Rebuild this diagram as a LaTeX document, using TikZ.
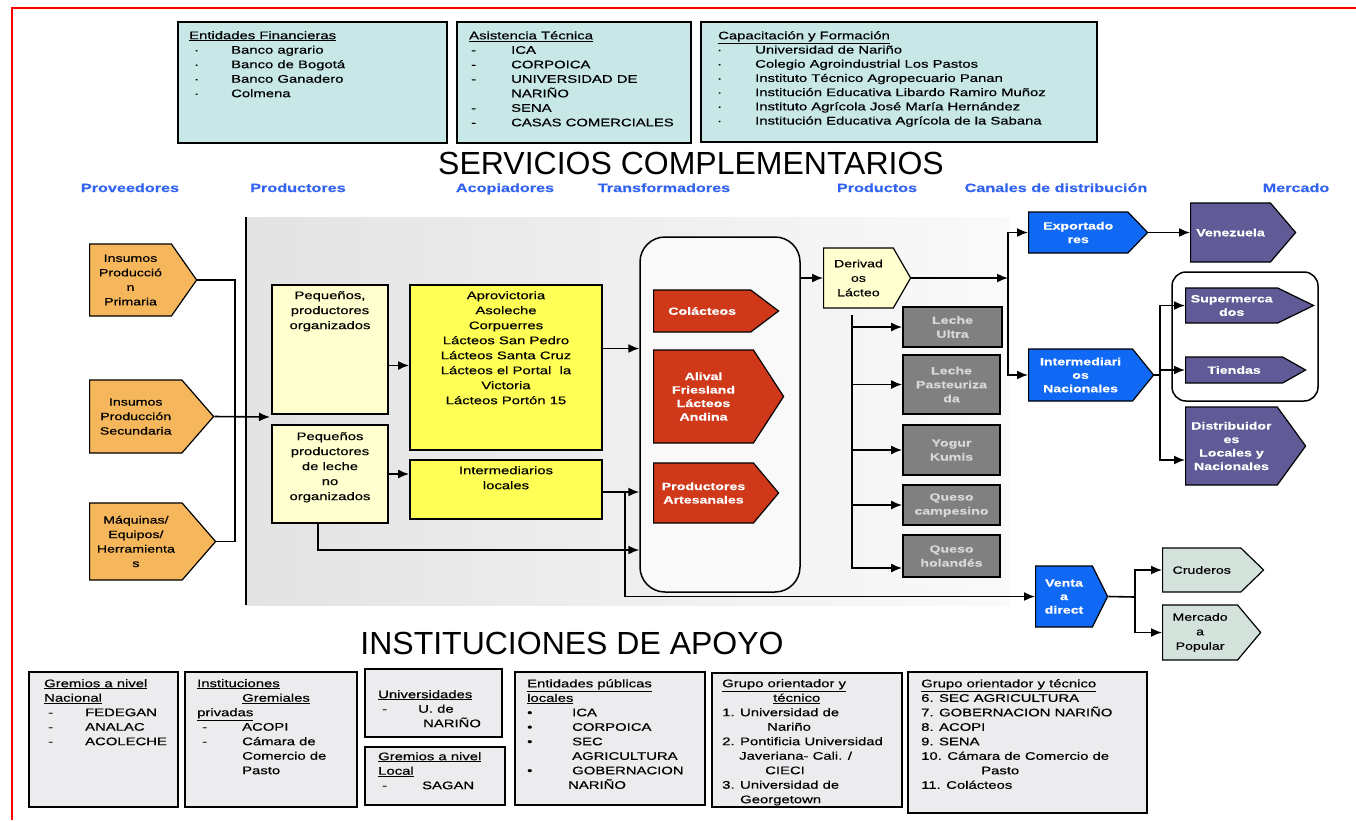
\documentclass[tikz,border=0pt]{standalone}
\usepackage{fontspec}
\setmainfont{Liberation Sans}
\newfontfamily\wf[FakeStretch=1.35,FakeBold=0.5]{Liberation Sans}
\usetikzlibrary{shapes.symbols,arrows.meta}
\definecolor{tealbg}{RGB}{200,232,232}
\definecolor{orng}{RGB}{245,182,92}
\definecolor{paley}{RGB}{255,255,208}
\definecolor{yel}{RGB}{255,255,85}
\definecolor{redc}{RGB}{208,56,26}
\definecolor{grayb}{RGB}{128,128,128}
\definecolor{blu}{RGB}{15,105,245}
\definecolor{purp}{RGB}{96,90,150}
\definecolor{crud}{RGB}{212,226,220}
\definecolor{botbg}{RGB}{236,236,238}
\definecolor{lblue}{RGB}{50,100,240}
\definecolor{gtext}{RGB}{215,215,215}
\newcommand\mkbox[7]{\node[#1, minimum width={#4-#2}, minimum height={#5-#3}] (#6) at ({(#2+#4)/2},{(#3+#5)/2}) {#7};}
\newcommand\bulit[3]{\hspace*{#1pt}\makebox[#2pt][l]{#3}}
\begin{document}
\begin{tikzpicture}[x=1pt, y=-1pt,
 ln/.style={line width=1.6},
 arr/.style={line width=1.6, -{Latex[length=11pt,width=9pt]}},
 tb/.style={draw, line width=2.2, fill=tealbg, inner sep=0},
 bb/.style={draw, line width=2, fill=botbg, inner sep=0},
 pbox/.style={draw, line width=1.8, fill=paley, inner sep=0},
 ybox/.style={draw, line width=1.8, fill=yel, inner sep=0},
 gbox/.style={draw, line width=1.8, fill=grayb, inner sep=0, align=center, text=gtext, font=\wf\bfseries\fontsize{10.5}{14}\selectfont},
 trbox/.style={draw, line width=1.5, rounded corners=25, fill=gray!5, inner sep=0},
 rbx/.style={draw, line width=1.5, rounded corners=14, inner sep=0},
 txt/.style={inner sep=0, anchor=north west, align=left, font=\wf\fontsize{11}{14.5}\selectfont},
 ctxt/.style={inner sep=0, anchor=north, align=center, font=\wf\fontsize{11}{15}\selectfont},
 pent/.style={signal, signal to=east, signal from=nowhere, draw, line width=1.2, inner sep=0, anchor=west, align=center},
 wtxt/.style={text=white, font=\wf\bfseries\fontsize{10.5}{13.5}\selectfont},
 btxt/.style={text=black, font=\wf\fontsize{10.5}{14.5}\selectfont},
 lbl/.style={text=lblue, anchor=base, font=\wf\bfseries\fontsize{12}{14}\selectfont},
 ttl/.style={font=\fontsize{32}{36}\selectfont}]
\useasboundingbox (0,0) rectangle (1356,820);
\fill[white] (0,0) rectangle (1356,820);
\draw[red, line width=1.5] (12,820) -- (12,8) -- (1356,8);

% top boxes
\mkbox{tb}{178}{22}{447}{143}{fin}{}
\mkbox{tb}{457}{22}{691}{143}{asis}{}
\mkbox{tb}{701}{22}{1097}{142}{capa}{}
\node[txt] (fint) at (189,31) {\underline{Entidades Financieras}\\
\bulit{5}{37}{\textperiodcentered}Banco agrario\\
\bulit{5}{37}{\textperiodcentered}Banco de Bogotá\\
\bulit{5}{37}{\textperiodcentered}Banco Ganadero\\
\bulit{5}{37}{\textperiodcentered}Colmena};
\node[txt] (asist) at (469,31) {\underline{Asistencia Técnica}\\
\bulit{2}{40}{-}ICA\\
\bulit{2}{40}{-}CORPOICA\\
\bulit{2}{40}{-}UNIVERSIDAD DE\\
\hspace*{42pt}NARIÑO\\
\bulit{2}{40}{-}SENA\\
\bulit{2}{40}{-}CASAS COMERCIALES};
\node[txt, font=\wf\fontsize{11}{14.2}\selectfont] (capt) at (716,31) {\hspace*{2pt}\underline{Capacitación y Formación}\\
\bulit{1}{38}{\textperiodcentered}Universidad de Nariño\\
\bulit{1}{38}{\textperiodcentered}Colegio Agroindustrial Los Pastos\\
\bulit{1}{38}{\textperiodcentered}Instituto Técnico Agropecuario Panan\\
\bulit{1}{38}{\textperiodcentered}Institución Educativa Libardo Ramiro Muñoz\\
\bulit{1}{38}{\textperiodcentered}Instituto Agrícola José María Hernández\\
\bulit{1}{38}{\textperiodcentered}Institución Educativa Agrícola de la Sabana};

\node[ttl] (t1) at (691,163) {SERVICIOS COMPLEMENTARIOS};
\node[lbl] (l1) at (130,192) {Proveedores};
\node[lbl] (l2) at (298,192) {Productores};
\node[lbl] (l3) at (505,192) {Acopiadores};
\node[lbl] (l4) at (664,192) {Transformadores};
\node[lbl] (l5) at (877,192) {Productos};
\node[lbl] (l6) at (1056,192) {Canales de distribución};
\node[lbl] (l7) at (1296,192) {Mercado};

% gray panel
\shade[left color=gray!22, right color=gray!4] (246,217) rectangle (1010,605);
\draw[line width=1.2] (246,217) -- (246,605);

% providers
\node[pent, fill=orng, btxt, minimum width=107, minimum height=72, signal pointer angle=110] (o1) at (89,280) {Insumos\\Producció\\n\\Primaria};
\node[pent, fill=orng, btxt, minimum width=124, minimum height=73, signal pointer angle=98] (o2) at (89,416.5) {Insumos\\Producción\\Secundaria};
\node[pent, fill=orng, btxt, minimum width=126, minimum height=77, signal pointer angle=98] (o3) at (89,541.5) {Máquinas/\\Equipos/\\Herramienta\\s};

% producers
\mkbox{pbox}{272}{285}{388}{414}{po}{}
\node[ctxt] (pot) at (330,291) {Pequeños,\\productores\\organizados};
\mkbox{pbox}{272}{425}{388}{523}{pn}{}
\node[ctxt] (pnt) at (330,432) {Pequeños\\productores\\de leche\\no\\organizados};
\mkbox{ybox}{410}{285}{602}{450}{acop}{}
\node[ctxt] (acopt) at (506,291) {Aprovictoria\\Asoleche\\Corpuerres\\Lácteos San Pedro\\Lácteos Santa Cruz\\Lácteos el Portal\ \ la\\Victoria\\Lácteos Portón 15};
\mkbox{ybox}{410}{460}{602}{519}{inter}{}
\node[ctxt] (intert) at (506,466) {Intermediarios\\locales};

% transformers
\mkbox{trbox}{640}{237}{800}{592}{tr}{}
\node[pent, fill=redc, wtxt, minimum width=125, minimum height=42, signal pointer angle=74] (r1) at (653,311) {Colácteos};
\node[pent, fill=redc, wtxt, minimum width=130, minimum height=93, signal pointer angle=114] (r2) at (653,396.5) {Alival\\Friesland\\Lácteos\\Andina};
\node[pent, fill=redc, wtxt, minimum width=125, minimum height=60, signal pointer angle=100] (r3) at (653,493) {Productores\\Artesanales};

% products
\node[pent, fill=paley, btxt, minimum width=87, minimum height=60, signal pointer angle=120] (deriv) at (823,278) {Derivad\\os\\Lácteo};
\mkbox{gbox}{903}{307}{1002}{347}{g1}{Leche\\Ultra}
\mkbox{gbox}{903}{355}{1000}{414}{g2}{Leche\\Pasteuriza\\da}
\mkbox{gbox}{903}{425}{1000}{475}{g3}{Yogur\\Kumis}
\mkbox{gbox}{903}{485}{1000}{525}{g4}{Queso\\campesino}
\mkbox{gbox}{903}{535}{1000}{577}{g5}{Queso\\holandés}

% channels
\node[pent, fill=blu, wtxt, minimum width=119, minimum height=41, signal pointer angle=92] (exp) at (1028,232.5) {Exportado\\res};
\node[pent, fill=blu, wtxt, minimum width=125, minimum height=52, signal pointer angle=102] (intn) at (1028,375) {Intermediari\\os\\Nacionales};
\node[pent, fill=blu, wtxt, minimum width=72, minimum height=61, signal pointer angle=127] (venta) at (1035,596.5) {Venta\\a\\direct};

% markets
\node[pent, fill=purp, wtxt, minimum width=105, minimum height=59, signal pointer angle=99] (ven) at (1190,232.5) {Venezuela};
\mkbox{rbx}{1172}{272}{1318}{401}{rb}{}
\node[pent, fill=purp, wtxt, minimum width=128, minimum height=35, signal pointer angle=52] (sup) at (1185,305.5) {Supermerca\\dos};
\node[pent, fill=purp, wtxt, minimum width=120, minimum height=26, signal pointer angle=59] (tie) at (1185,370) {Tiendas};
\node[pent, fill=purp, wtxt, minimum width=120, minimum height=78, signal pointer angle=108] (dis) at (1185,446) {Distribuidor\\es\\Locales y\\Nacionales};
\node[pent, fill=crud, btxt, minimum width=101, minimum height=44, signal pointer angle=88] (cru) at (1162,570) {Cruderos};
\node[pent, fill=crud, btxt, minimum width=98, minimum height=55, signal pointer angle=100] (mer) at (1162,632.5) {Mercado\\a\\Popular};

% connectors
\coordinate (jl) at (235,415);
\draw[ln] (o1.east) -| (jl) |- (o3.east);
\coordinate (pin) at (270,417);
\draw[arr] (o2.east) -- (pin);
\draw[arr] ([yshift=-16pt]po.east) -- ([yshift=-16pt]po.east -| acop.west);
\draw[arr] (pn.east) -- (pn.east -| inter.west);
\draw[arr] ([yshift=19pt]acop.east) -- ([yshift=19pt]acop.east -| tr.west);
\coordinate (jv) at (625,492);
\draw[arr] (inter.east |- jv) -- (jv -| tr.west);
\draw[arr] (jv) |- (venta.west);
\coordinate (pd) at (318,550);
\draw[arr] (pd |- pn.south) -- (pd) -- (pd -| tr.west);
\draw[arr] (tr.east |- deriv.west) -- (deriv.west);
\coordinate (jd) at (1008,278);
\draw[arr] (deriv.east) -- (jd);
\draw[arr] (jd) |- (exp.west);
\draw[arr] (jd) |- (intn.west);
\coordinate (jp) at (852,315);
\draw[arr] (jp) |- ([yshift=-12pt]g5.west);
\foreach \g in {g1,g2,g3,g4} {\draw[arr] (jp |- \g.west) -- (\g.west);}
\draw[arr] (exp.east) -- (ven.west);
\coordinate (jn) at (1160,375);
\draw[ln] (intn.east) -- (jn);
\draw[arr] (jn) |- (sup.west);
\draw[arr] (jn) |- (tie.west);
\draw[arr] (jn) |- ([yshift=-14pt]dis.west);
\coordinate (jvd) at (1135,597);
\draw[ln] (venta.east) -- (jvd);
\draw[arr] (jvd) |- (cru.west);
\draw[arr] (jvd) |- (mer.west);

% bottom
\node[ttl] (t2) at (572,643) {INSTITUCIONES DE APOYO};
\mkbox{bb}{29}{672}{178}{807}{b1}{}
\node[txt] (b1t) at (44,679) {\underline{Gremios a nivel}\\\underline{Nacional}\\
\bulit{4}{37}{-}FEDEGAN\\\bulit{4}{37}{-}ANALAC\\\bulit{4}{37}{-}ACOLECHE};
\mkbox{bb}{185}{672}{357}{807}{b2}{}
\node[txt] (b2t) at (197,679) {\underline{Instituciones}\\\hspace*{45pt}\underline{Gremiales}\\\underline{privadas}\\
\bulit{5}{40}{-}ACOPI\\\bulit{5}{40}{-}Cámara de\\\hspace*{45pt}Comercio de\\\hspace*{45pt}Pasto};
\mkbox{bb}{365}{669}{502}{737}{b3}{}
\node[txt] (b3t) at (378,690) {\underline{Universidades}\\\bulit{4}{36}{-}U. de\\\hspace*{45pt}NARIÑO};
\mkbox{bb}{365}{747}{505}{805}{b4}{}
\node[txt] (b4t) at (378,752) {\underline{Gremios a nivel}\\\underline{Local}\\\bulit{4}{40}{-}SAGAN};
\mkbox{bb}{515}{672}{705}{805}{b5}{}
\node[txt] (b5t) at (527,679) {\underline{Entidades públicas}\\\underline{locales}\\
\bulit{0}{45}{\textbullet}ICA\\\bulit{0}{45}{\textbullet}CORPOICA\\\bulit{0}{45}{\textbullet}SEC\\\hspace*{45pt}AGRICULTURA\\\bulit{0}{45}{\textbullet}GOBERNACION\\\hspace*{41pt}NARIÑO};
\mkbox{bb}{712}{673}{902}{807}{b6}{}
\node[txt] (b6t) at (722,679) {\underline{Grupo orientador y}\\\hspace*{51pt}\underline{técnico}\\1. Universidad de\\\hspace*{45pt}Nariño\\2. Pontificia Universidad\\\hspace*{17pt}Javeriana- Cali. /\\\hspace*{43pt}CIECI\\3. Universidad de\\\hspace*{18pt}Georgetown};
\mkbox{bb}{908}{672}{1147}{813}{b7}{}
\node[txt] (b7t) at (921,679) {\underline{Grupo orientador y técnico}\\6. SEC AGRICULTURA\\7. GOBERNACION NARIÑO\\8. ACOPI\\9. SENA\\10. Cámara de Comercio de\\\hspace*{60pt}Pasto\\11. Colácteos};
\end{tikzpicture}
\end{document}
